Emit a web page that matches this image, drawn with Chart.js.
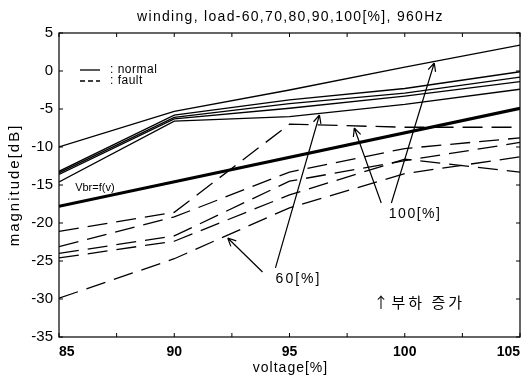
<!DOCTYPE html>
<html>
<head>
<meta charset="utf-8">
<script src="https://cdn.jsdelivr.net/npm/chart.js@4"></script>
<style>
  html, body { margin: 0; padding: 0; background: #fff; }
  #wrap { width: 527px; height: 377px; }
</style>
</head>
<body>
<div id="wrap"><canvas id="myChart"></canvas></div>
<script>
// voltage [%]
const voltage = [85, 90, 95, 100, 105];

// normal (solid), load 100..60 %
const normal100 = [-10.0, -5.3, -2.5, 0.5, 3.4];
const normal90 = [-13.2, -5.8, -3.8, -2.3, -0.1];
const normal80 = [-13.4, -6.1, -4.3, -2.9, -0.8];
const normal70 = [-13.6, -6.3, -4.9, -3.3, -1.4];
const normal60 = [-14.6, -6.6, -6.0, -4.4, -2.4];

// fault (dashed), load 100..60 %
const fault100 = [-21.1, -18.6, -7.0, -7.4, -7.4];
const fault90 = [-23.1, -19.2, -13.3, -10.2, -8.8];
const fault80 = [-24.0, -21.7, -14.5, -11.8, -9.4];
const fault70 = [-24.6, -22.4, -16.3, -11.6, -13.3];
const fault60 = [-29.9, -24.7, -18.0, -13.5, -11.3];

// Vbr = f(v)
const vbrVoltage = [85, 105];
const vbr = [-17.8, -4.9];

const xTicks = [85, 90, 95, 100, 105];
const yTicks = [5, 0, -5, -10, -15, -20, -25, -30, -35];

// annotation arrows in data units: [tailX, tailY, tipX, tipY]
const arrows = [
    [93.83, -26.45, 92.32, -21.97],
    [94.39, -25.9, 96.30, -5.79],
    [98.98, -17.37, 97.81, -7.5],
    [99.42, -17.37, 101.28, 1.05],
];
const notes = [
    {x: 95.39, y: -27.37, text: '60[%]', align: 'center', sp: '2px'},
    {x: 100.45, y: -18.8, text: '100[%]', align: 'center', sp: '1.5px'},
    {x: 100.63, y: -30.4, text: '↑부하 증가', align: 'center', kr: true, sp: '3px'},
    {x: 85.7, y: -15.4, text: 'Vbr=f(v)', align: 'left', small: true, sp: '0px'},
];

const pts = (xs, ys) => xs.map((x, i) => ({x: x, y: ys[i]}));

const solid = (vals) => ({
    data: pts(voltage, vals), borderColor: '#000', borderWidth: 1.3,
    pointRadius: 0, tension: 0, fill: false,
});
const dashed = (vals) => ({
    data: pts(voltage, vals), borderColor: '#000', borderWidth: 1.3,
    borderDash: [20, 9], pointRadius: 0, tension: 0, fill: false,
});

const FONT = '"Liberation Sans", Arial, sans-serif';

const decor = {
    id: 'decor',
    afterDraw(chart) {
        const {ctx, chartArea: a, scales: {x, y}} = chart;
        ctx.save();
        ctx.strokeStyle = '#000';
        ctx.fillStyle = '#000';
        ctx.lineWidth = 1.2;
        ctx.setLineDash([]);
        ctx.strokeRect(a.left, a.top, a.right - a.left, a.bottom - a.top);

        // inward ticks
        ctx.lineWidth = 1;
        x.ticks.forEach(t => {
            const px = x.getPixelForValue(t.value);
            ctx.beginPath();
            ctx.moveTo(px, a.bottom); ctx.lineTo(px, a.bottom - 4);
            ctx.moveTo(px, a.top); ctx.lineTo(px, a.top + 4);
            ctx.stroke();
        });
        y.ticks.forEach(t => {
            const py = y.getPixelForValue(t.value);
            ctx.beginPath();
            ctx.moveTo(a.left, py); ctx.lineTo(a.left + 4, py);
            ctx.moveTo(a.right, py); ctx.lineTo(a.right - 4, py);
            ctx.stroke();
        });

        // title and axis titles
        ctx.textAlign = 'center';
        ctx.textBaseline = 'middle';
        ctx.font = '14px ' + FONT;
        ctx.letterSpacing = '1.3px';
        ctx.fillText('winding, load-60,70,80,90,100[%], 960Hz', (a.left + a.right) / 2 + 1, 17);
        ctx.letterSpacing = '1px';
        ctx.fillText('voltage[%]', (a.left + a.right) / 2 + 1, 368);
        ctx.save();
        ctx.translate(15, (a.top + a.bottom) / 2);
        ctx.rotate(-Math.PI / 2);
        ctx.font = '15px ' + FONT;
        ctx.letterSpacing = '2px';
        ctx.fillText('magnitude[dB]', 0, 0);
        ctx.restore();

        // legend
        const lx = a.left + 21, ly = a.top + 37;
        ctx.lineWidth = 1.3;
        ctx.beginPath(); ctx.moveTo(lx, ly); ctx.lineTo(lx + 20, ly); ctx.stroke();
        ctx.setLineDash([5, 3]);
        ctx.beginPath(); ctx.moveTo(lx, ly + 11); ctx.lineTo(lx + 20, ly + 11); ctx.stroke();
        ctx.setLineDash([]);
        ctx.font = '12px ' + FONT;
        ctx.letterSpacing = '0.5px';
        ctx.textAlign = 'left';
        ctx.fillText(': normal', lx + 30, ly);
        ctx.fillText(': fault', lx + 30, ly + 11);

        // arrows
        ctx.lineWidth = 1.2;
        arrows.forEach(([x0, y0, x1, y1]) => {
            const p0 = [x.getPixelForValue(x0), y.getPixelForValue(y0)];
            const p1 = [x.getPixelForValue(x1), y.getPixelForValue(y1)];
            const ang = Math.atan2(p1[1] - p0[1], p1[0] - p0[0]);
            ctx.beginPath();
            ctx.moveTo(p0[0], p0[1]); ctx.lineTo(p1[0], p1[1]);
            [ang + 2.7, ang - 2.7].forEach(b => {
                ctx.moveTo(p1[0], p1[1]);
                ctx.lineTo(p1[0] + 9 * Math.cos(b), p1[1] + 9 * Math.sin(b));
            });
            ctx.stroke();
        });

        // notes
        notes.forEach(n => {
            ctx.font = n.kr ? '15px "Noto Sans CJK KR", sans-serif'
                : (n.small ? '11px ' + FONT : '14px ' + FONT);
            ctx.letterSpacing = n.sp;
            ctx.textAlign = n.align;
            ctx.fillText(n.text, x.getPixelForValue(n.x), y.getPixelForValue(n.y));
        });
        ctx.restore();
    }
};

new Chart(document.getElementById('myChart'), {
    type: 'line',
    data: {
        datasets: [
            solid(normal100), solid(normal90), solid(normal80), solid(normal70), solid(normal60),
            dashed(fault100), dashed(fault90), dashed(fault80), dashed(fault70), dashed(fault60),
            {
                data: pts(vbrVoltage, vbr), borderColor: '#000', borderWidth: 3.2,
                pointRadius: 0, fill: false,
            },
        ],
    },
    options: {
        responsive: true,
        maintainAspectRatio: false,
        animation: false,
        layout: {padding: {top: 33, right: 6, left: 0, bottom: 0}},
        plugins: {legend: {display: false}, tooltip: {enabled: false}},
        scales: {
            x: {
                type: 'linear', min: 85, max: 105,
                afterBuildTicks: s => { s.ticks = [85, 87.5, 90, 92.5, 95, 97.5, 100, 102.5, 105].map(v => ({value: v})); },
                ticks: {
                    callback: v => xTicks.includes(v) ? String(v) : '',
                    autoSkip: false, maxRotation: 0, align: 'inner',
                    color: '#000', padding: 7,
                    font: {family: FONT, size: 14, weight: 'bold'},
                },
                grid: {drawOnChartArea: false, drawTicks: false},
                border: {display: false},
                afterFit: s => { s.height = 40; },
            },
            y: {
                min: -35, max: 5,
                afterBuildTicks: s => { s.ticks = yTicks.map(v => ({value: v})); },
                ticks: {color: '#000', padding: 6, font: {family: FONT, size: 15}},
                grid: {drawOnChartArea: false, drawTicks: false},
                border: {display: false},
                afterFit: s => { s.width = 59; },
            },
        },
    },
    plugins: [decor],
});
</script>
</body>
</html>
